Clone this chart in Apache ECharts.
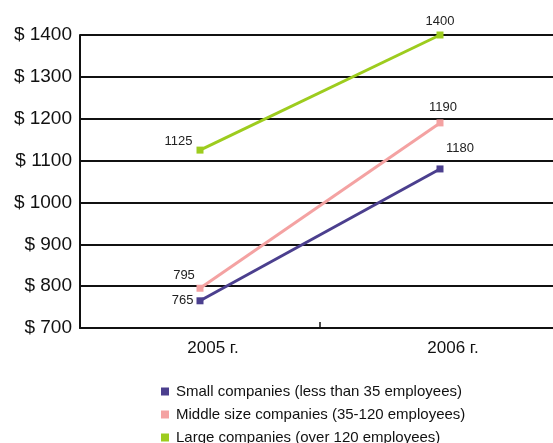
<!DOCTYPE html>
<html><head><meta charset="utf-8">
<script src="https://cdn.jsdelivr.net/npm/echarts@6/dist/echarts.min.js"></script>
<style>html,body{margin:0;padding:0;background:#fff}#c{width:553px;height:443px}</style>
</head><body><div id="c"></div>
<script>
var categories = ['2005 г.', '2006 г.'];
var seriesNames = ['Small companies (less than 35 employees)', 'Middle size companies (35-120 employees)', 'Large companies (over 120 employees)'];
var smallValues = [765, 1080];
var smallLabels = ['765', '1180'];
var middleValues = [795, 1190];
var middleLabels = ['795', '1190'];
var largeValues = [1125, 1400];
var largeLabels = ['1125', '1400'];
var yTicks = [700, 800, 900, 1000, 1100, 1200, 1300, 1400];

var colors = ['#4b3f8e', '#f4a2a2', '#9dcc1e'];
var font = 'Liberation Sans, Arial, sans-serif';

function mk(name, values, labels, color, positions) {
  return {
    name: name, type: 'line', data: values.map(function (v, i) {
      return { value: [i, v], label: Object.assign({ formatter: labels[i] }, positions[i]) };
    }),
    symbol: 'rect', symbolSize: 7,
    lineStyle: { color: color, width: 3 },
    itemStyle: { color: color },
    label: { show: true, color: '#222', fontSize: 13, fontFamily: font },
    z: 5
  };
}

// category slots are 240px wide; the plot area runs off the right edge of the picture
var slot = 240, gridLeft = 80, chartW = 553;
var xMax = (chartW - gridLeft) / slot - 0.5;

var chart = echarts.init(document.getElementById('c'));
chart.setOption({
  animation: false,
  color: colors,
  grid: { left: gridLeft, top: 35, right: 0, height: 293 },
  legend: {
    orient: 'vertical', left: 156, top: 379, itemGap: 8, height: 80, width: 400,
    itemWidth: 8, itemHeight: 8, icon: 'rect',
    textStyle: { fontSize: 15, color: '#111', fontFamily: font, padding: [0, 0, 0, 2] },
    data: seriesNames
  },
  xAxis: {
    type: 'value', min: -0.5, max: xMax,
    splitLine: { show: false },
    axisLine: { onZero: false, lineStyle: { color: '#111', width: 2 } },
    axisTick: { show: true, inside: true, length: 6, customValues: [0.5], lineStyle: { color: '#111', width: 1.5 } },
    axisLabel: {
      customValues: [0, 1],
      fontSize: 17, color: '#111', fontFamily: font, margin: 12, padding: [0, 0, 0, 26],
      formatter: function (v) { return categories[Math.round(v)] || ''; }
    }
  },
  yAxis: {
    type: 'value', min: 700, max: 1400, interval: 100,
    axisLine: { show: true, onZero: false, lineStyle: { color: '#111', width: 2 } },
    axisTick: { show: false },
    splitLine: { lineStyle: { color: '#111', width: 2 } },
    axisLabel: {
      fontSize: 19, color: '#111', fontFamily: font, margin: 8,
      formatter: function (v) { return yTicks.indexOf(v) >= 0 ? '$ ' + v : ''; }
    }
  },
  series: [
    mk(seriesNames[0], smallValues, smallLabels, colors[0], [{ position: 'left', distance: 3 }, { position: 'top', offset: [20, -6] }]),
    mk(seriesNames[1], middleValues, middleLabels, colors[1], [{ position: 'top', offset: [-16, 2] }, { position: 'top', offset: [3, 0] }]),
    mk(seriesNames[2], largeValues, largeLabels, colors[2], [{ position: 'left', distance: 4, offset: [0, -9] }, { position: 'top', offset: [0, 1] }])
  ]
});
</script></body></html>
